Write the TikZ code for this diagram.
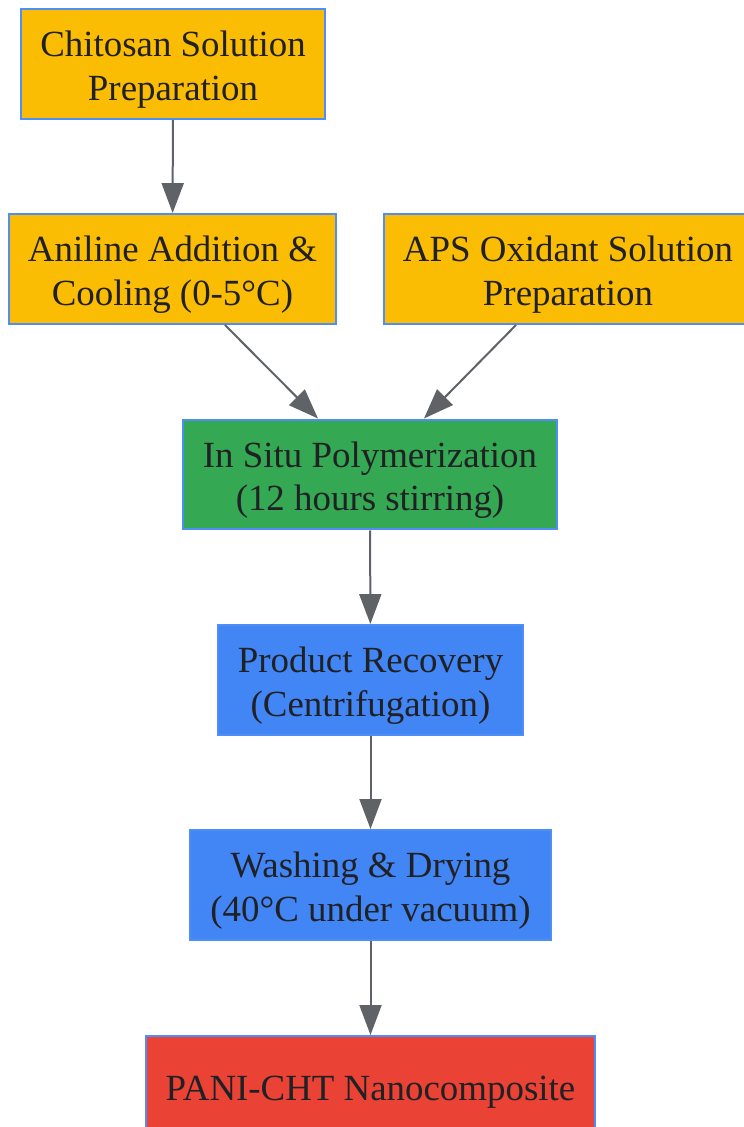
\documentclass[tikz,border=0pt]{standalone}
\usepackage{fontspec}
\setmainfont{Liberation Serif}
\usetikzlibrary{arrows.meta}
\usetikzlibrary{positioning}
\definecolor{stepgold}{HTML}{FBBC04}
\definecolor{stepgreen}{HTML}{34A853}
\definecolor{stepblue}{HTML}{4285F4}
\definecolor{stepred}{HTML}{EA4335}
\definecolor{edgeblue}{HTML}{4F8EF7}
\definecolor{txtdark}{HTML}{202124}
\definecolor{flowgrey}{HTML}{5F6368}
\newcommand{\toprow}{\rule{0pt}{21pt}}
\tikzset{
	stepbox/.style={draw=edgeblue, line width=0.04cm, text=txtdark, align=center, inner sep=0pt,
		font=\fontsize{21}{25}\selectfont, minimum height=2.2cm},
	flow/.style={draw=flowgrey, line width=0.04cm, -{Triangle[length=0.6cm, width=0.44cm]}}
}

\begin{document}
\begin{tikzpicture}[x=0.02cm, y=-0.02cm]
				\clip (0,0) rectangle (744,1127);
				\fill[white] (0,0) rectangle (744,1127);
				
				\node[stepbox, fill=stepgold, minimum width=6.08cm] (chito) at (173,64) {\toprow Chitosan Solution\\Preparation};
				\node[stepbox, fill=stepgold, minimum width=6.54cm] (anil) at (172.5,269) {\toprow Aniline Addition \&\\Cooling (0-5°C)};
				\node[stepbox, fill=stepgold, minimum width=7.36cm] (aps) at (568,269) {\toprow APS Oxidant Solution\\Preparation};
				\node[stepbox, fill=stepgreen, minimum width=7.48cm] (poly) at (370,474.5) {\toprow In Situ Polymerization\\(12 hours stirring)};
				\node[stepbox, fill=stepblue, minimum width=6.1cm] (recov) at (370.5,680) {\toprow Product Recovery\\(Centrifugation)};
				\node[stepbox, fill=stepblue, minimum width=7.22cm] (wash) at (370.5,885) {\toprow Washing \& Drying\\(40°C under vacuum)};
				\node[stepbox, fill=stepred, minimum width=8.98cm, minimum height=2cm] (pani) at (370.5,1086) {\toprow PANI-CHT Nanocomposite};
				
				\draw[flow] (chito) -- (anil);
				\draw[flow] ([xshift=1.05cm]anil.south) -- ([xshift=-1.04cm]poly.north);
				\draw[flow] ([xshift=-1.04cm]aps.south) -- ([xshift=1.08cm]poly.north);
				\draw[flow] (poly) -- (recov);
				\draw[flow] (recov) -- (wash);
				\draw[flow] (wash) -- (pani);
			\end{tikzpicture}
\end{document}
